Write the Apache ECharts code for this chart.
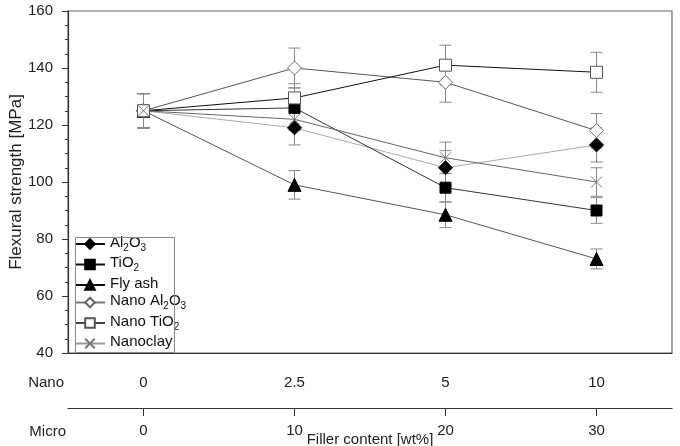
<!DOCTYPE html>
<html>
<head>
<meta charset="utf-8">
<script src="https://cdn.jsdelivr.net/npm/echarts@6/dist/echarts.min.js"></script>
<style>
  html, body { margin: 0; padding: 0; background: #fff; }
  #chart { width: 680px; height: 446px; }
</style>
</head>
<body>
<div id="chart"></div>
<script>
// x categories: nano wt% on the first row, micro wt% on the second
var nanoLabels = ['0', '2.5', '5', '10'];
var microLabels = ['0', '10', '20', '30'];

// flexural strength [MPa] and error (+/-)
var al2o3 = [125, 119, 105, 113];
var al2o3Err = [6, 6, 6, 6];
var tio2 = [125, 126, 98, 90];
var tio2Err = [6, 7, 5, 4.5];
var flyAsh = [125, 99, 88.5, 73];
var flyAshErr = [6, 5, 4.5, 3.5];
var nanoAl2o3 = [125, 140, 135, 118];
var nanoAl2o3Err = [6, 7, 7, 6];
var nanoTio2 = [125, 129.5, 141, 138.5];
var nanoTio2Err = [6, 5, 7, 7];
var nanoclay = [125, 122, 108.5, 100];
var nanoclayErr = [6, 4, 5.5, 5];

var FONT = 'Liberation Sans';
var FS = 15;

var richNames = {
    'Al2O3': '{t|Al}{s|2}{t|O}{s|3}',
    'TiO2': '{t|TiO}{s|2}',
    'Fly ash': '{t|Fly ash}',
    'Nano Al2O3': '{t|Nano Al}{s|2}{t|O}{s|3}',
    'Nano TiO2': '{t|Nano TiO}{s|2}',
    'Nanoclay': '{t|Nanoclay}'
};

function errData(vals, errs) {
    var out = [];
    for (var i = 0; i < vals.length; i++) {
        out.push([i, vals[i] - errs[i], vals[i] + errs[i]]);
    }
    return out;
}

// error bars drawn as custom series (own names so the legend ignores them)
function errSeries(name, vals, errs) {
    return {
        name: name + ' error',
        type: 'custom',
        z: 1,
        silent: true,
        data: errData(vals, errs),
        renderItem: function (params, api) {
            var lo = api.coord([api.value(0), api.value(1)]);
            var hi = api.coord([api.value(0), api.value(2)]);
            var w = 6;
            var st = { stroke: '#888', lineWidth: 1 };
            return {
                type: 'group',
                children: [
                    { type: 'line', shape: { x1: hi[0], y1: hi[1], x2: lo[0], y2: lo[1] }, style: st },
                    { type: 'line', shape: { x1: hi[0] - w, y1: hi[1], x2: hi[0] + w, y2: hi[1] }, style: st },
                    { type: 'line', shape: { x1: lo[0] - w, y1: lo[1], x2: lo[0] + w, y2: lo[1] }, style: st }
                ]
            };
        }
    };
}

function lineSeries(name, vals, symbol, size, lineColor, fill, border) {
    return {
        name: name,
        type: 'line',
        z: 3,
        data: vals,
        symbol: symbol,
        symbolSize: size,
        showAllSymbol: true,
        lineStyle: { color: lineColor, width: 1 },
        itemStyle: { color: fill, borderColor: border, borderWidth: 1 },
        emphasis: { disabled: true }
    };
}

var crossPath = 'path://M0,0L10,10M10,0L0,10';

var option = {
    animation: false,
    textStyle: { fontFamily: FONT },
    grid: {
        left: 68, right: 8, top: 11, bottom: 93,
        outerBoundsMode: 'none',
        show: true, borderColor: '#666', borderWidth: 1.2
    },
    legend: {
        orient: 'vertical',
        left: 74,
        top: 235,
        itemWidth: 30,
        itemHeight: 12,
        itemGap: 2.5,
        padding: 0,
        textStyle: {
            fontFamily: FONT,
            color: '#111',
            rich: {
                t: { fontSize: FS, fontFamily: FONT, color: '#111', verticalAlign: 'bottom', padding: [0, 0, 3, 0] },
                s: { fontSize: 10, fontFamily: FONT, color: '#111', verticalAlign: 'bottom' }
            }
        },
        formatter: function (name) { return richNames[name]; },
        data: [
            { name: 'Al2O3', lineStyle: { color: '#111' } },
            { name: 'TiO2', lineStyle: { color: '#111' } },
            { name: 'Fly ash', lineStyle: { color: '#111' } },
            { name: 'Nano Al2O3', lineStyle: { color: '#777' } },
            { name: 'Nano TiO2', lineStyle: { color: '#444' } },
            { name: 'Nanoclay', lineStyle: { color: '#999' } }
        ]
    },
    xAxis: [
        {
            type: 'category',
            data: nanoLabels,
            boundaryGap: true,
            axisLine: { lineStyle: { color: '#333', width: 1.2 } },
            axisTick: { alignWithLabel: true, length: 8, lineStyle: { color: '#333' } },
            axisLabel: { margin: 22, fontSize: FS, color: '#222', fontFamily: FONT },
            splitLine: { show: false }
        },
        {
            type: 'category',
            data: microLabels,
            boundaryGap: true,
            position: 'bottom',
            offset: 55,
            axisLine: { show: true, lineStyle: { color: '#333', width: 1.2 } },
            axisTick: { show: true, alignWithLabel: true, length: 8, lineStyle: { color: '#333' } },
            axisLabel: { margin: 15, fontSize: FS, color: '#222', fontFamily: FONT },
            splitLine: { show: false }
        }
    ],
    yAxis: {
        type: 'value',
        min: 40,
        max: 160,
        interval: 20,
        axisLine: { show: true, lineStyle: { color: '#333', width: 1.2 } },
        axisTick: { show: true, length: 6, lineStyle: { color: '#333' } },
        minorTick: { show: true, splitNumber: 4, length: 3, lineStyle: { color: '#333' } },
        splitLine: { show: false },
        axisLabel: { margin: 15, fontSize: FS, color: '#222', fontFamily: FONT },
        name: 'Flexural strength [MPa]',
        nameLocation: 'middle',
        nameGap: 43,
        nameMoveOverlap: false,
        nameTextStyle: { fontSize: 17, color: '#222', fontFamily: FONT }
    },
    graphic: [
        {
            type: 'rect', left: 73, top: 235, z: 100,
            shape: { width: 99, height: 115 },
            style: { fill: 'none', stroke: '#888', lineWidth: 1 }
        },
        { type: 'text', right: 680 - 64, top: 375, style: { text: 'Nano', fontSize: FS, fill: '#222', fontFamily: FONT } },
        { type: 'text', right: 680 - 66, top: 424, style: { text: 'Micro', fontSize: FS, fill: '#222', fontFamily: FONT } },
        { type: 'text', x: 370, y: 432, style: { text: 'Filler content [wt%]', textAlign: 'center', fontSize: FS, fill: '#222', fontFamily: FONT } }
    ],
    series: [
        errSeries('Al2O3', al2o3, al2o3Err),
        errSeries('TiO2', tio2, tio2Err),
        errSeries('Fly ash', flyAsh, flyAshErr),
        errSeries('Nano Al2O3', nanoAl2o3, nanoAl2o3Err),
        errSeries('Nano TiO2', nanoTio2, nanoTio2Err),
        errSeries('Nanoclay', nanoclay, nanoclayErr),
        lineSeries('Al2O3', al2o3, 'diamond', 14, '#aaa', '#000', '#000'),
        lineSeries('TiO2', tio2, 'rect', 11, '#333', '#000', '#000'),
        lineSeries('Fly ash', flyAsh, 'triangle', 13, '#555', '#000', '#000'),
        lineSeries('Nano Al2O3', nanoAl2o3, 'diamond', 14, '#555', '#fff', '#666'),
        lineSeries('Nano TiO2', nanoTio2, 'rect', 12, '#111', '#fff', '#555'),
        lineSeries('Nanoclay', nanoclay, crossPath, 11, '#666', '#fff', '#777')
    ]
};

var chart = echarts.init(document.getElementById('chart'));
chart.setOption(option);
</script>
</body>
</html>
